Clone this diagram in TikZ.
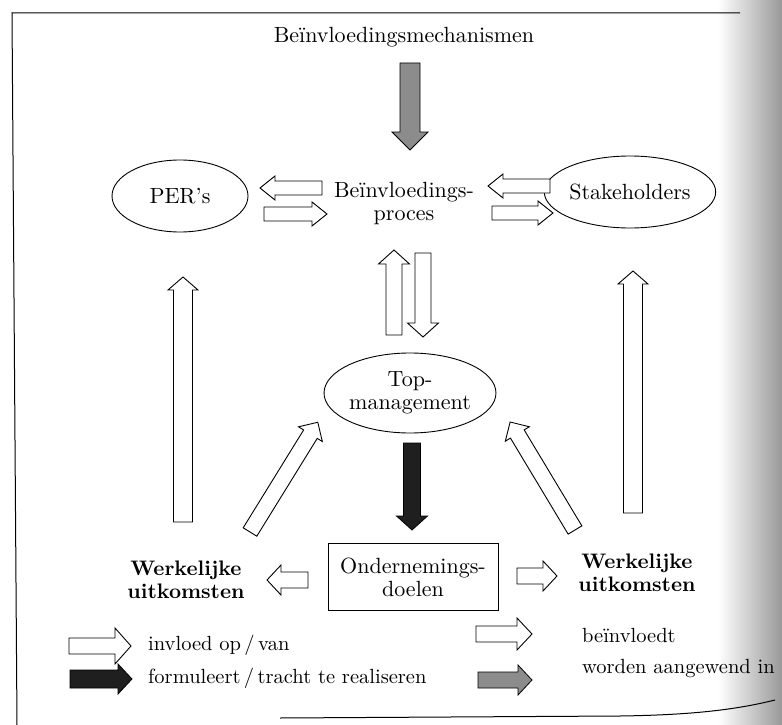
\documentclass[tikz,border=0pt]{standalone}
\usepackage{fontspec}
\setmainfont{lmroman10-regular}[Extension=.otf, BoldFont=lmroman10-bold]
\usetikzlibrary{shapes.geometric}
% blokpijl: (staart) (hoek:lengte:halve schacht:halve kop:koplengte)
\def\blokpijl[#1](#2)(#3:#4:#5:#6:#7){\draw[#1,shift={(#2)},rotate=#3] (0,-#5) -- ({#4-#7},-#5) -- ({#4-#7},-#6) -- (#4,0) -- ({#4-#7},#6) -- ({#4-#7},#5) -- (0,#5) -- cycle;}
\tikzset{
  hol/.style={draw=black, fill=white, line width=0.9pt, line join=miter},
  grijs/.style={draw=black, fill=black!45, line width=0.8pt},
  zwart/.style={draw=black, fill=black!88, line width=0.8pt},
  ovaal/.style={ellipse, draw, line width=0.9pt, inner sep=0pt, align=center},
  tekst/.style={align=center, inner sep=0pt},
  vet/.style={tekst, font=\fontsize{21}{23}\selectfont\bfseries},
  legenda/.style={anchor=base west, inner sep=0pt, font=\fontsize{20.5}{22}\selectfont}
}
\begin{document}
\begin{tikzpicture}[x=1pt, y=-1pt, font=\fontsize{22}{23}\selectfont]
			%%%%% KADER %%%%%
			\useasboundingbox (0,0) rectangle (782,725);
			\shade[left color=white, right color=black!40] (718,0) rectangle (782,725);
			\draw[line width=1pt] (740,13) -- (12,13) -- (17,725);
			\draw[line width=1pt] (280,718) -- (620,716) .. controls (690,715) and (735,710) .. (775,700);
			
			%%%%% KNOPEN %%%%%
			\node[tekst, anchor=base] (mech) at (404,43) {Beïnvloedingsmechanismen};
			\node[tekst] (proces) at (404,203) {Beïnvloedings-\\proces};
			\node[ovaal, minimum width=136, minimum height=72] (per) at (180,196) {PER’s};
			\node[ovaal, minimum width=136, minimum height=72] (stake) at (630,192) {Stakeholders};
			\node[ovaal, minimum width=160, minimum height=80] (top) at (410,393) {Top-\\management};
			\node[draw, line width=0.9pt, minimum width=170, minimum height=67, tekst] (doel) at (413,577) {Ondernemings-\\doelen};
			\node[vet] (wl) at (186,580) {Werkelijke\\uitkomsten};
			\node[vet] (wr) at (637,573) {Werkelijke\\uitkomsten};
			
			%%%%% PIJLEN %%%%%
			\blokpijl[grijs](410,63)(-90:87:10:18:18)
			
			\blokpijl[hol](322,188)(180:62:7:12:15)
			\blokpijl[hol](264,214)(0:63:7:12:15)
			\blokpijl[hol](550,186)(180:62:7:12:15)
			\blokpijl[hol](492,213)(0:61:7:12:15)
			
			\blokpijl[hol](394,335)(90:85:8:15.5:14)
			\blokpijl[hol](423,253)(-90:84:8:15.5:14)
			
			\blokpijl[hol](183,522)(90:245:9.5:15:13)
			\blokpijl[hol](633,513)(90:242:9.5:15:13)
			
			\blokpijl[hol](250,532)(58.3:129:8:14:14)
			\blokpijl[hol](575,530)(121:126:8:14:14)
			
			\blokpijl[zwart](412,443)(-90:87:8.5:15.5:14)
			
			\blokpijl[hol](308,580)(180:41:8:15:14)
			\blokpijl[hol](517,576)(0:40:8:15:14)
			
			%%%%% LEGENDA %%%%%
			\blokpijl[hol](69,646)(0:62:8:18:16)
			\blokpijl[zwart](70,679)(0:62:9:15:14)
			\blokpijl[hol](476,634)(0:56:8:16:15)
			\blokpijl[grijs](478,680)(0:54:8:15:14)
			
			\node[legenda] (l1) at (148,650) {invloed op\,/\,van};
			\node[legenda] (l2) at (148,683) {formuleert\,/\,tracht te realiseren};
			\node[legenda] (l3) at (582,642) {beïnvloedt};
			\node[legenda] (l4) at (582,673) {worden aangewend in};
\end{tikzpicture}
\end{document}
